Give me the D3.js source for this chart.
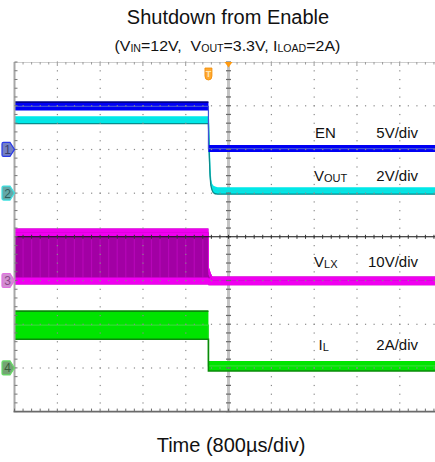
<!DOCTYPE html>
<html><head><meta charset="utf-8">
<script src="https://cdn.jsdelivr.net/npm/d3@7"></script>
<style>
html,body{margin:0;padding:0;background:#fff;overflow:hidden}
svg{display:block;font-family:"Liberation Sans",Arial,Helvetica,sans-serif}
</style>
</head><body>
<svg id="chart" width="435" height="462"></svg>
<script>
// ---- time base: 800 µs/div, 10 divisions across the screen ----
const timeRangeUs = [-4000, 4000];
const timeMinorUs = 160;
const edgeUs = -375;            // EN falling edge (trigger point)

// ---- channels ----
const channelNames  = ["EN", "VOUT", "VLX", "IL"];
const channelScales = ["5V/div", "2V/div", "10V/div", "2A/div"];
const unitsPerDiv   = [5, 2, 10, 2];
const groundDiv     = [2, 1, -1, -3];

// EN (ch1): envelope of the trace, volts
const enT  = [-4000, edgeUs, edgeUs, 4000];
const enHi = [5.4, 5.4, 0.5, 0.5];
const enLo = [4.45, 4.45, -0.3, -0.3];

// VOUT (ch2): output discharge after the enable falls, volts
const voutT  = [-4000, edgeUs, -360, -345, -330, -310, -285, -250, -200, 4000];
const voutHi = [3.52, 3.52, 2.2, 1.1, 0.65, 0.45, 0.35, 0.3, 0.27, 0.27];
const voutLo = [3.18, 3.18, 1.8, 0.8, 0.35, 0.15, 0.02, -0.03, -0.05, -0.05];

// VLX (ch3): switch node envelope, volts
const vlxT  = [-4000, edgeUs, edgeUs, -355, -330, -300, 4000];
const vlxHi = [11.9, 11.9, 3.2, 2.6, 1.6, 0.9, 0.9];
const vlxLo = [-0.9, -0.9, -1.1, -1.1, -1.1, -1.1, -1.1];
const vlxHiRing = 1.8;          // width of the bright top band, volts
const vlxLoRing = 1.6;          // width of the bright bottom band, volts

// IL (ch4): inductor current envelope, amps
const ilT  = [-4000, edgeUs, edgeUs, 4000];
const ilHi = [2.6, 2.6, 0.32, 0.32];
const ilLo = [1.31, 1.31, -0.14, -0.14];

// ---- layout ----
const svg = d3.select("#chart");
const plot = {left: 14.5, top: 62, width: 428, height: 349.6};
const x = d3.scaleLinear().domain(timeRangeUs).range([plot.left, plot.left + plot.width]);
const yDiv = d3.scaleLinear().domain([-4, 4]).range([plot.top + plot.height, plot.top]);
const yCh = ch => v => yDiv(groundDiv[ch] + v / unitsPerDiv[ch]);

const xMajor = d3.range(timeRangeUs[0], timeRangeUs[1] + 1, 800);
const xMinor = d3.range(timeRangeUs[0], timeRangeUs[1] + 1, timeMinorUs);
const yMajor = d3.range(-4, 4.001, 1);
const yMinor = d3.range(-4, 4.001, 0.2);
const xC = x(0), yC = yDiv(0);

// ---- titles ----
svg.append("text").attr("x", 228).attr("y", 24).attr("text-anchor", "middle")
  .attr("font-size", 20).attr("fill", "#111").text("Shutdown from Enable");

const sub = svg.append("text").attr("y", 51).attr("font-size", 15).attr("fill", "#111")
  .style("white-space", "pre");
[["(V", false], ["IN", true], ["=12V,  V", false], ["OUT", true], ["=3.3V, I", false], ["LOAD", true], ["=2A)", false]]
  .forEach(([t, isSub], i, arr) => {
    const ts = sub.append("tspan").text(t);
    if (isSub) ts.attr("font-size", 10).attr("dy", 1.5);
    else if (i > 0 && arr[i - 1][1]) ts.attr("dy", -1.5);
  });
{
  const w = sub.node().getComputedTextLength();
  const target = 226, cx = 227.5;
  sub.attr("transform", `translate(${cx},0) scale(${target / w},1) translate(${-w / 2},0)`);
}

svg.append("text").attr("x", 231).attr("y", 452).attr("text-anchor", "middle")
  .attr("font-size", 20).attr("fill", "#111").text("Time (800µs/div)");

// ---- screen ----
const scr = svg.append("g");
scr.append("clipPath").attr("id", "clip").append("rect")
  .attr("x", plot.left).attr("y", plot.top).attr("width", plot.width).attr("height", plot.height);

// centre vertical rail (under the traces)
scr.append("rect").attr("x", xC - 1.5).attr("y", plot.top).attr("width", 3)
  .attr("height", plot.height).attr("fill", "#c4c4c4");

const traces = scr.append("g").attr("clip-path", "url(#clip)");

function band(ch, T, lo, hi, fill) {
  const yy = yCh(ch);
  const a = d3.area().x((d, i) => x(T[i])).y0((d, i) => yy(lo[i])).y1((d, i) => yy(hi[i]));
  traces.append("path").attr("d", a(T)).attr("fill", fill);
}
function edge(ch, T, vals, color, w) {
  const yy = yCh(ch);
  const l = d3.line().x((d, i) => x(T[i])).y((d, i) => yy(vals[i]));
  traces.append("path").attr("d", l(T)).attr("fill", "none").attr("stroke", color).attr("stroke-width", w);
}
const mid = (lo, hi) => lo.map((v, i) => (v + hi[i]) / 2);

// ch3 VLX: purple switching block with bright ringing bands
band(2, vlxT, vlxLo, vlxHi, "#a200a4");
{
  const yy = yCh(2);
  const top = yy(vlxHi[0] - vlxHiRing), bot = yy(vlxLo[0] + vlxLoRing);
  traces.append("g").selectAll("line").data(xMinor.filter(t => t > timeRangeUs[0] && t < edgeUs))
    .join("line").attr("x1", d => x(d)).attr("x2", d => x(d)).attr("y1", top).attr("y2", bot)
    .attr("stroke", "#b606b8").attr("stroke-width", 1.2);
}
band(2, vlxT, vlxHi.map(v => v - vlxHiRing), vlxHi, "#f000f0");
band(2, vlxT, vlxLo, vlxLo.map(v => v + vlxLoRing), "#f000f0");
edge(2, vlxT, vlxHi.map(v => v - vlxHiRing / 2), "#e000e0", 1);

// ch4 IL
band(3, ilT, ilLo, ilHi, "#00e400");
edge(3, ilT, mid(ilLo, ilHi), "#30e030", 1.2);
edge(3, ilT.slice(0, 2), ilHi.slice(0, 2), "#0a8a0a", 1.6);
edge(3, ilT, ilLo, "#0a8a0a", 1.6);

// ch2 VOUT
band(1, voutT, voutLo, voutHi, "#00e8e8");
edge(1, voutT, mid(voutLo, voutHi), "#10dede", 1.4);
edge(1, voutT, voutLo, "#0a8c8c", 1.3);

// ch1 EN
band(0, enT, enLo, enHi, "#0000f4");
edge(0, enT, mid(enLo, enHi), "#4050d8", 1.2);
edge(0, enT.slice(0, 2), enHi.slice(0, 2), "#00008a", 1.8);

// ---- graticule on top ----
const g = scr.append("g");
// dotted major lines
xMajor.filter(t => t > timeRangeUs[0] && t < timeRangeUs[1] && t !== 0).forEach(t => {
  g.append("g").selectAll("rect").data(yMinor).join("rect")
    .attr("x", x(t) - 0.5).attr("y", d => yDiv(d) - 0.5).attr("width", 1.2).attr("height", 1.2).attr("fill", "#8a8a8a");
});
yMajor.filter(d => d > -4 && d < 4 && d !== 0).forEach(d0 => {
  g.append("g").selectAll("rect").data(xMinor).join("rect")
    .attr("x", t => x(t) - 0.5).attr("y", yDiv(d0) - 0.5).attr("width", 1.2).attr("height", 1.2).attr("fill", "#8a8a8a");
});
// centre vertical rail ticks
g.append("g").selectAll("rect").data(yMinor).join("rect")
  .attr("x", xC - 2.5).attr("y", d => yDiv(d) - 0.6).attr("width", 5).attr("height", 1.2).attr("fill", "#6a6a6a");
// centre horizontal line
g.append("line").attr("x1", plot.left).attr("x2", plot.left + plot.width).attr("y1", yC).attr("y2", yC)
  .attr("stroke", "#111").attr("stroke-width", 1.1);
g.append("g").selectAll("line").data(xMinor).join("line")
  .attr("x1", t => x(t)).attr("x2", t => x(t)).attr("y1", yC - 2).attr("y2", yC + 2)
  .attr("stroke", "#333").attr("stroke-width", 1);
// top edge
g.append("line").attr("x1", plot.left).attr("x2", plot.left + plot.width).attr("y1", plot.top + 0.5).attr("y2", plot.top + 0.5)
  .attr("stroke", "#cfcfcf").attr("stroke-width", 1);
g.append("g").selectAll("line").data(xMinor).join("line")
  .attr("x1", t => x(t)).attr("x2", t => x(t)).attr("y1", plot.top).attr("y2", (t) => plot.top + (t % 800 === 0 ? 4 : 2.5))
  .attr("stroke", "#9a9a9a").attr("stroke-width", 1);
// left edge
g.append("line").attr("x1", plot.left).attr("x2", plot.left).attr("y1", plot.top).attr("y2", plot.top + plot.height)
  .attr("stroke", "#a8a8a8").attr("stroke-width", 2);
g.append("g").selectAll("line").data(yMinor).join("line")
  .attr("x1", plot.left).attr("x2", plot.left + 3).attr("y1", d => yDiv(d)).attr("y2", d => yDiv(d))
  .attr("stroke", "#777").attr("stroke-width", 1);
// bottom edge
g.append("line").attr("x1", plot.left - 1).attr("x2", plot.left + plot.width).attr("y1", plot.top + plot.height).attr("y2", plot.top + plot.height)
  .attr("stroke", "#6a6a6a").attr("stroke-width", 1.6);
g.append("g").selectAll("line").data(xMinor).join("line")
  .attr("x1", t => x(t)).attr("x2", t => x(t)).attr("y1", plot.top + plot.height).attr("y2", plot.top + plot.height - 3)
  .attr("stroke", "#6a6a6a").attr("stroke-width", 1);

// ---- trigger markers ----
svg.append("path")
  .attr("d", `M${xC - 4},${plot.top} L${xC + 4},${plot.top} L${xC},${plot.top + 5.5} Z`)
  .attr("fill", "#ff9a10");
{
  const xt = x(edgeUs), yt = 68;
  svg.append("path")
    .attr("d", `M${xt - 3.5},${yt} H${xt + 3.5} V${yt + 8} Q${xt + 3.5},${yt + 12} ${xt},${yt + 12} Q${xt - 3.5},${yt + 12} ${xt - 3.5},${yt + 8} Z`)
    .attr("fill", "#ffa830").attr("stroke", "#f08a00").attr("stroke-width", 0.8);
  svg.append("text").attr("x", xt).attr("y", yt + 9).attr("text-anchor", "middle")
    .attr("font-size", 9).attr("font-weight", "bold").attr("fill", "#ffe6b0").text("T");
}

// ---- channel ground markers ----
const markerFill   = ["#7480c4", "#64a8a8", "#d28ed2", "#74a474"];
const markerStroke = ["#2a3ae8", "#3ee0e0", "#e070e0", "#66dd66"];
const markerText   = ["#38406e", "#2f5f5f", "#8a4a8a", "#3c5e3c"];
groundDiv.forEach((gd, ch) => {
  const y = yDiv(gd);
  svg.append("path")
    .attr("d", `M3.5,${y - 7} H10 L14.5,${y} L10,${y + 7} H3.5 Q2,${y + 7} 2,${y + 5.5} V${y - 5.5} Q2,${y - 7} 3.5,${y - 7} Z`)
    .attr("fill", markerFill[ch]).attr("stroke", markerStroke[ch]).attr("stroke-width", 1.2);
  svg.append("text").attr("x", 7.5).attr("y", y + 4.5).attr("text-anchor", "middle")
    .attr("font-size", 12).attr("fill", markerText[ch]).text(ch + 1);
});

// ---- channel labels ----
const labelDiv = [2.27, 1.28, -0.69, -2.59];
const labelMain = ["EN", "V", "V", "I"];
const labelSub  = ["", "OUT", "LX", "L"];
const labelX    = [315, 314, 314, 318.5];
channelNames.forEach((name, ch) => {
  const y = yDiv(labelDiv[ch]);
  const t = svg.append("text").attr("x", labelX[ch]).attr("y", y).attr("font-size", 15).attr("fill", "#111");
  t.append("tspan").text(labelMain[ch]);
  if (labelSub[ch]) t.append("tspan").attr("font-size", 11).attr("dy", 1.3).text(labelSub[ch]);
  svg.append("text").attr("x", 418).attr("y", y).attr("text-anchor", "end")
    .attr("font-size", 15).attr("fill", "#111").text(channelScales[ch]);
});
</script>
</body></html>
